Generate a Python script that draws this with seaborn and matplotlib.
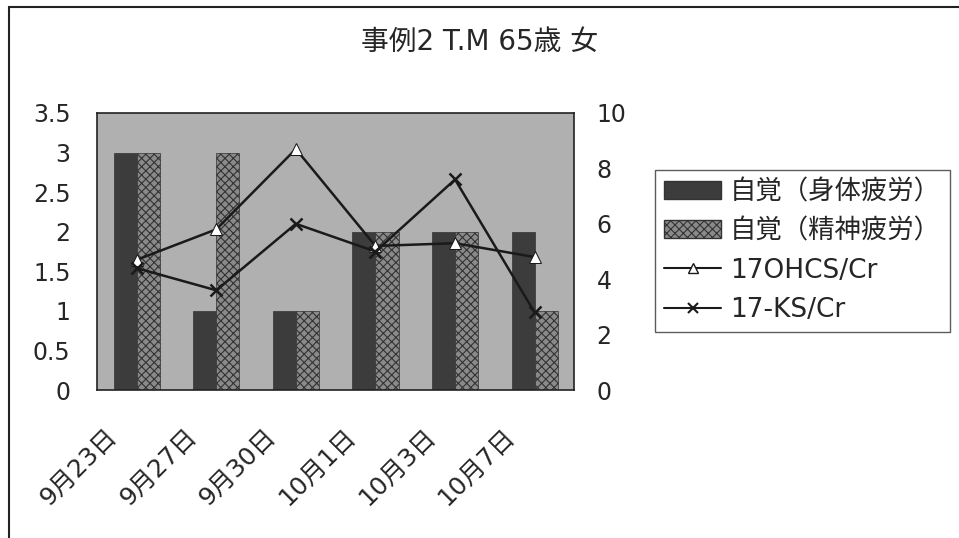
import numpy as np
import pandas as pd
import seaborn as sns
import matplotlib.pyplot as plt
import matplotlib.transforms as mtransforms
from matplotlib.lines import Line2D
from matplotlib.patches import Patch, Rectangle

dates = ["9月23日", "9月27日", "9月30日", "10月1日", "10月3日", "10月7日"]
physical = [3, 1, 1, 2, 2, 2]      # 自覚（身体疲労）
mental = [3, 3, 1, 2, 2, 1]        # 自覚（精神疲労）
ohcs = [4.7, 5.8, 8.7, 5.2, 5.3, 4.8]   # 17OHCS/Cr
ks = [4.4, 3.6, 6.0, 5.0, 7.6, 2.8]     # 17-KS/Cr

lab_phys = "自覚（身体疲労）"
lab_ment = "自覚（精神疲労）"

sns.set_style("white")
plt.rcParams['font.family'] = ['DejaVu Sans', 'Noto Sans CJK JP']
plt.rcParams['hatch.color'] = '#e0e0e0'
plt.rcParams['hatch.linewidth'] = 0.8

bars = pd.DataFrame({
    "date": dates * 2,
    "value": physical + mental,
    "kind": [lab_phys] * len(dates) + [lab_ment] * len(dates),
})

fig = plt.figure(figsize=(9.59, 5.38), dpi=100)
ax = fig.add_axes([0.101, 0.275, 0.498, 0.515])
ax.set_facecolor('#b0b0b0')

sns.barplot(data=bars, x="date", y="value", hue="kind", order=dates,
            hue_order=[lab_phys, lab_ment], palette=['#3c3c3c', '#8a8a8a'],
            width=0.58, dodge=True, legend=False, ax=ax,
            edgecolor='#333333', linewidth=0.5)
for p in ax.patches[len(dates):]:
    p.set_hatch('xxxx')

ax.set_ylim(0, 3.5)
ax.set_yticks(np.arange(0, 3.51, 0.5))
ax.set_yticklabels(["0", "0.5", "1", "1.5", "2", "2.5", "3", "3.5"])
ax.set_xlabel("")
ax.set_ylabel("")
ax.tick_params(axis='y', length=0, pad=19, labelsize=17)
ax.tick_params(axis='x', length=0, pad=0, labelsize=18)
offset = mtransforms.ScaledTranslation(-32 / 100, -34 / 100, fig.dpi_scale_trans)
for lbl in ax.get_xticklabels():
    lbl.set_rotation(45)
    lbl.set_ha('right')
    lbl.set_va('top')
    lbl.set_rotation_mode('anchor')
    lbl.set_transform(lbl.get_transform() + offset)
for s in ax.spines.values():
    s.set_color('#222222')
    s.set_linewidth(1.2)

ax2 = ax.twinx()
pos = np.arange(len(dates))
lines = pd.DataFrame({"x": list(pos) * 2, "y": ohcs + ks,
                      "s": ["17OHCS/Cr"] * len(dates) + ["17-KS/Cr"] * len(dates)})
sns.lineplot(data=lines[lines.s == "17OHCS/Cr"], x="x", y="y", ax=ax2,
             color='#1a1a1a', linewidth=1.8, marker='^', markersize=9,
             markerfacecolor='white', markeredgecolor='#1a1a1a', legend=False)
sns.lineplot(data=lines[lines.s == "17-KS/Cr"], x="x", y="y", ax=ax2,
             color='#1a1a1a', linewidth=1.8, marker='x', markersize=9,
             markeredgewidth=1.8, markeredgecolor='#1a1a1a', legend=False)
ax2.set_ylim(0, 10)
ax2.set_yticks([0, 2, 4, 6, 8, 10])
ax2.set_ylabel("")
ax2.set_xlabel("")
ax2.tick_params(axis='y', length=0, pad=16, labelsize=17)
for s in ax2.spines.values():
    s.set_visible(False)
ax.set_xlim(-0.5, len(dates) - 0.5)

fig.text(0.5, 0.922, "事例2 T.M 65歳 女", ha='center', va='center', fontsize=20)

handles = [
    Patch(facecolor='#3c3c3c', edgecolor='#333333', label=lab_phys),
    Patch(facecolor='#8a8a8a', edgecolor='#333333', hatch='xxxx', label=lab_ment),
    Line2D([0], [0], color='#1a1a1a', lw=1.5, marker='^', markersize=7,
           markerfacecolor='white', label="17OHCS/Cr"),
    Line2D([0], [0], color='#1a1a1a', lw=1.5, marker='x', markersize=7,
           markeredgewidth=1.5, label="17-KS/Cr"),
]
leg = fig.legend(handles=handles, loc='upper left', bbox_to_anchor=(0.683, 0.684),
                 fontsize=19, frameon=True, fancybox=False, edgecolor='#333333',
                 handlelength=2.15, handleheight=0.7, labelspacing=0.5,
                 borderpad=0.35, handletextpad=0.35, borderaxespad=0)
leg.get_frame().set_linewidth(1.0)

# chart area border (top and left visible in scan)
fig.patches.append(Rectangle((0.0095, -0.05), 1.2, 1.037, transform=fig.transFigure,
                             fill=False, edgecolor='#222222', linewidth=1.5))

fig.savefig("out.png", dpi=100)
